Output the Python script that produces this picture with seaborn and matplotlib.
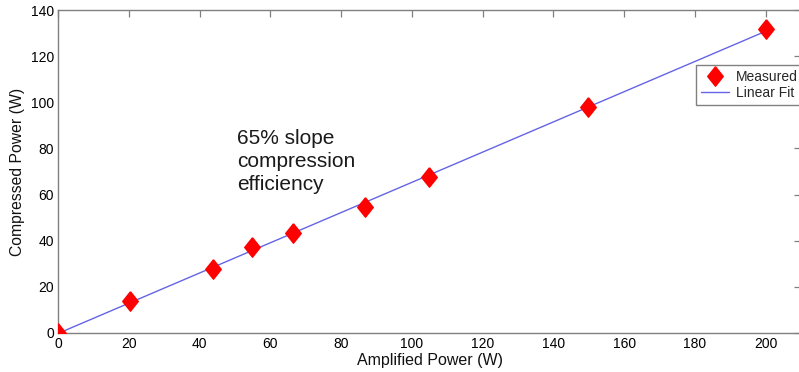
import numpy as np
import pandas as pd
import matplotlib
matplotlib.use("Agg")
import matplotlib.pyplot as plt
import seaborn as sns

amplified = [0, 20.3, 43.9, 54.9, 66.3, 86.7, 104.9, 149.7, 200.0]
compressed = [0, 14.0, 27.6, 37.1, 43.5, 54.8, 67.5, 98.0, 131.6]
x_ticks = [0, 20, 40, 60, 80, 100, 120, 140, 160, 180, 200]
y_ticks = [0, 20, 40, 60, 80, 100, 120, 140]

sns.set_theme(style="white")
plt.rcParams['font.family'] = ['Liberation Sans', 'DejaVu Sans']

df = pd.DataFrame({"Amplified Power (W)": amplified, "Compressed Power (W)": compressed})
coef = np.polyfit(amplified, compressed, 1)
fit_x = [0.0, 200.0]
fit_df = pd.DataFrame({"x": fit_x, "y": np.polyval(coef, fit_x)})

fig = plt.figure(figsize=(7.99, 3.72), dpi=100)
ax = fig.add_axes([58 / 799, 1 - 333 / 372, (801 - 58) / 799, (333 - 10) / 372])

diamond = [(0, 1), (0.8, 0), (0, -1), (-0.8, 0), (0, 1)]
ax.plot(df["Amplified Power (W)"], df["Compressed Power (W)"], linestyle='none',
        marker=diamond, markersize=14, color='#ff0000', markeredgecolor='#ff0000',
        label='Measured', zorder=3)
sns.lineplot(data=fit_df, x="x", y="y", ax=ax, color='#6464e6', linewidth=1.0,
             label='Linear Fit', zorder=2)

ax.set_xlim(0, 210)
ax.set_ylim(0, 140)
ax.set_xticks(x_ticks)
ax.set_yticks(y_ticks)
ax.tick_params(axis='both', direction='in', length=5, width=0.9, color='#808080',
               labelsize=10, labelcolor='black', top=True, right=True, pad=3)
for s in ax.spines.values():
    s.set_color('#808080')
    s.set_linewidth(1.0)

ax.set_xlabel("Amplified Power (W)", fontsize=11.5, color='#111111', labelpad=1)
ax.set_ylabel("Compressed Power (W)", fontsize=11.3, color='#111111', labelpad=4)

ax.text(237 / 799, 1 - 129 / 372, "65% slope\ncompression\nefficiency",
        transform=fig.transFigure, fontsize=15, color='#1a1a1a',
        va='top', ha='left', linespacing=1.25)

leg = ax.legend(loc='lower left', bbox_to_anchor=(696 / 799, 1 - 105 / 372),
                bbox_transform=fig.transFigure, fontsize=10, fancybox=False,
                framealpha=1, edgecolor='#808080', borderaxespad=0,
                handletextpad=0.5, borderpad=0.35, labelspacing=0.15)
leg.get_frame().set_linewidth(1.0)

fig.savefig("out.png", dpi=100)
